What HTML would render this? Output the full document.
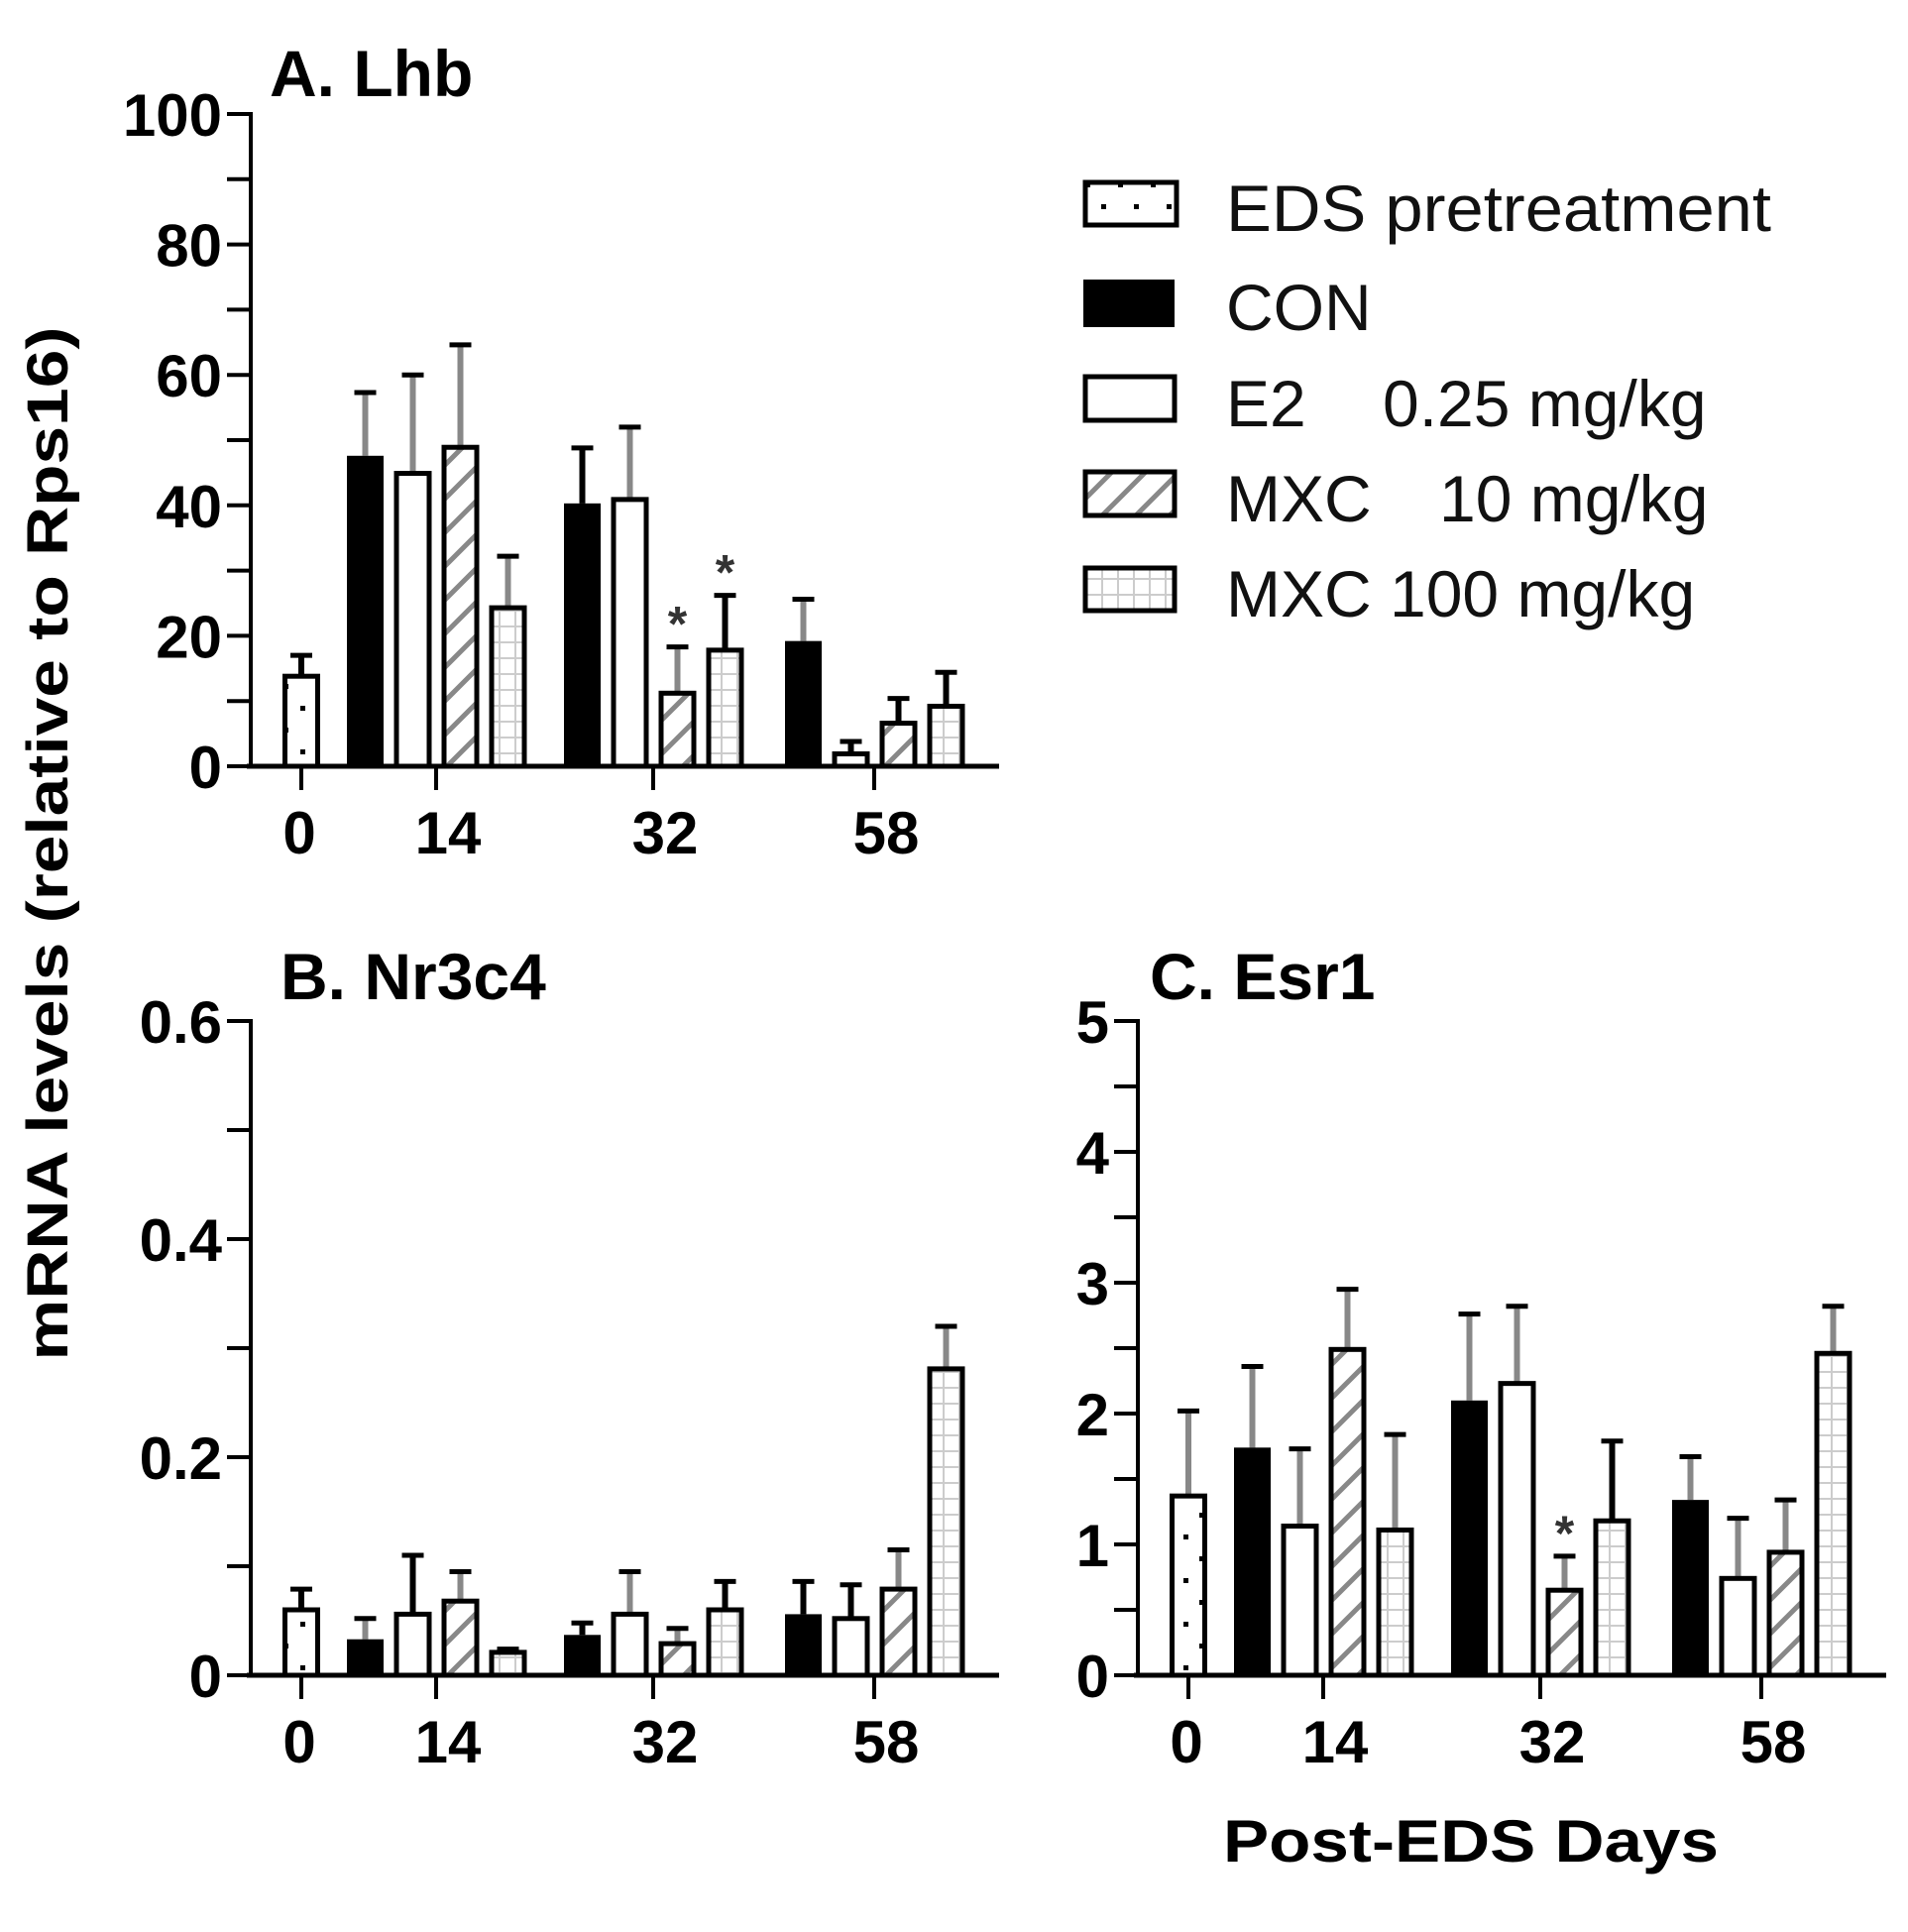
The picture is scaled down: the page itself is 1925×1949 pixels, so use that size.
<!DOCTYPE html>
<html><head><meta charset="utf-8"><style>
html,body{margin:0;padding:0;background:#fff;}
svg{display:block;}
text{font-family:"Liberation Sans",Arial,sans-serif;}
</style></head><body>
<svg id="fig" width="1925" height="1949" viewBox="0 0 1925 1949" xmlns="http://www.w3.org/2000/svg">
<defs>
<pattern id="pDots" patternUnits="userSpaceOnUse" width="33" height="44"><rect x="6" y="8" width="5" height="5" fill="#000"/><rect x="22" y="30" width="5" height="5" fill="#000"/></pattern>
<pattern id="pHatch" patternUnits="userSpaceOnUse" width="34" height="34"><path d="M-4,38 L38,-4 M-21,21 L21,-21 M13,55 L55,13" stroke="#888" stroke-width="5"/></pattern>
<pattern id="pGrid" patternUnits="userSpaceOnUse" width="16" height="16"><path d="M0,8 H16 M8,0 V16" stroke="#ccc" stroke-width="2"/></pattern>
</defs>
<g id="root"></g>
<text x="68" y="851" transform="rotate(-90 68 851)" text-anchor="middle" font-size="58" font-weight="bold" textLength="1043" lengthAdjust="spacingAndGlyphs">mRNA levels (relative to Rps16)</text>
<text x="1484" y="1878" text-anchor="middle" font-size="60" font-weight="bold" textLength="500" lengthAdjust="spacingAndGlyphs">Post-EDS Days</text>
<text x="272" y="97" font-size="66" font-weight="bold">A. Lhb</text>
<text x="283" y="1008" font-size="66" font-weight="bold">B. Nr3c4</text>
<text x="1160" y="1008" font-size="66" font-weight="bold">C. Esr1</text>
<g font-size="66" fill="#111">
<g><rect x="1095" y="184" width="92" height="43" fill="url(#pDots)" stroke="#000" stroke-width="5"/><text x="1237" y="233" textLength="550" lengthAdjust="spacingAndGlyphs">EDS pretreatment</text></g>
<g><rect x="1093" y="282" width="92" height="48" fill="#000"/><text x="1237" y="333">CON</text></g>
<g><rect x="1095" y="380" width="90" height="44" fill="#fff" stroke="#000" stroke-width="5"/><text x="1237" y="430">E2</text><text x="1395" y="430">0.25 mg/kg</text></g>
<g><rect x="1095" y="476" width="90" height="44" fill="url(#pHatch)" stroke="#000" stroke-width="5"/><text x="1237" y="526">MXC</text><text x="1452" y="526">10 mg/kg</text></g>
<g><rect x="1095" y="573" width="90" height="43" fill="url(#pGrid)" stroke="#000" stroke-width="5"/><text x="1237" y="622">MXC 100 mg/kg</text></g>
</g>
</svg>
<script>
// ---- data ----
const dayLabels = ["0","14","32","58"];
const groups = ["EDS","CON-14","E2-14","MXC10-14","MXC100-14","CON-32","E2-32","MXC10-32","MXC100-32","CON-58","E2-58","MXC10-58","MXC100-58"];
const lhbMean = [13.8,47.6,44.9,48.9,24.3,40.3,40.9,11.2,17.8,19.2,1.9,6.6,9.2];
const lhbSem  = [3.2,9.7,15.1,15.7,7.9,8.5,11.1,7.1,8.4,6.4,1.9,3.8,5.2];
const nr3c4Mean = [0.060,0.033,0.056,0.068,0.021,0.037,0.056,0.029,0.060,0.056,0.052,0.079,0.281];
const nr3c4Sem  = [0.019,0.019,0.054,0.027,0.003,0.011,0.039,0.014,0.026,0.030,0.031,0.036,0.039];
const esr1Mean = [1.37,1.74,1.14,2.49,1.11,2.10,2.23,0.65,1.18,1.34,0.74,0.94,2.46];
const esr1Sem  = [0.65,0.62,0.59,0.46,0.73,0.66,0.59,0.26,0.61,0.33,0.46,0.40,0.36];
const lhbTicks = [0,20,40,60,80,100];
const nr3c4Ticks = [0,0.2,0.4,0.6];
const esr1Ticks = [0,1,2,3,4,5];
const lhbStars = [7,8];
const esr1Stars = [7];

// ---- style ----
const fills = ["url(#pDots)","#000","#fff","url(#pHatch)","url(#pGrid)"];
const errColA = ["#000","#888","#888","#888","#888","#000","#888","#888","#000","#888","#000","#000","#000"];
const errColB = ["#000","#888","#000","#888","#000","#000","#888","#888","#000","#000","#000","#888","#888"];
const errColC = ["#888","#888","#888","#888","#888","#888","#888","#888","#000","#888","#888","#888","#888"];
const NS="http://www.w3.org/2000/svg";
const root=document.getElementById('root');
function mk(tag,attrs,parent){const e=document.createElementNS(NS,tag);for(const k in attrs)e.setAttribute(k,attrs[k]);(parent||root).appendChild(e);return e;}

function panel(key,ax,y0,yTop,maxV,minorStep,ticks,tickFmt,means,sems,errCols,stars){
  const g=mk('g',{});
  
  
  const yS=v=>y0-(v/maxV)*(y0-yTop);
  const slotX=i=>{ if(i===0) return ax+51-16.5; const gi=Math.floor((i-1)/4), k=(i-1)%4; return ax+[99,318,541][gi]+k*48; };
  const catX=[ax+51, ax+99+88, ax+318+88, ax+541+88];
  for(let i=0;i<means.length;i++){
    const x=slotX(i), w=33, top=yS(means[i]), cx=x+w/2, et=yS(means[i]+sems[i]);
    const type=i===0?0:1+((i-1)%4);
    const el=mk('line',{x1:cx,y1:top,x2:cx,y2:et,stroke:errCols[i],'stroke-width':6},g);
    
    
    const cap=mk('line',{x1:cx-11,y1:et,x2:cx+11,y2:et,stroke:'#000','stroke-width':5},g);
    
    
    const r=mk('rect',{x:x,y:top,width:w,height:Math.max(0,y0-top),fill:fills[type],stroke:'#000','stroke-width':type===1?0:5},g);
    if(type===1){r.setAttribute('x',x-2);r.setAttribute('width',w+4);}
    
    
  }
  stars.forEach(i=>{
    const cx=slotX(i)+16.5, et=yS(means[i]+sems[i]);
    const s=mk('text',{x:cx,y:et-6,'text-anchor':'middle','font-size':50,'font-weight':'bold',fill:'#333'},g);
    s.textContent='*';
    
    
  });
  const ya=mk('line',{x1:ax,y1:yTop-2,x2:ax,y2:y0+2,stroke:'#000','stroke-width':4},g);
  
  
  const xa=mk('line',{x1:ax-4,y1:y0,x2:ax+755,y2:y0,stroke:'#000','stroke-width':5},g);
  
  
  for(let v=0;v<=maxV+1e-9;v+=minorStep){
    mk('line',{x1:ax-24,y1:yS(v),x2:ax,y2:yS(v),stroke:'#000','stroke-width':4},g);
  }
  ticks.forEach(v=>{
    const t=mk('text',{x:ax-29,y:yS(v)+22,'text-anchor':'end','font-size':60,'font-weight':'bold'},g);
    t.textContent=tickFmt(v);
    
    
  });
  dayLabels.forEach((d,i)=>{
    mk('line',{x1:catX[i],y1:y0,x2:catX[i],y2:y0+24,stroke:'#000','stroke-width':4},g);
    const t=mk('text',{x:catX[i]+(i===0?-2:12),y:y0+88,'text-anchor':'middle','font-size':60,'font-weight':'bold'},g);
    t.textContent=d;
    
    
  });
}
panel('lhb',253,773,115,100,10,lhbTicks,v=>String(v),lhbMean,lhbSem,errColA,lhbStars);
panel('nr3c4',253,1690,1030,0.6,0.1,nr3c4Ticks,v=>v===0?'0':v.toFixed(1),nr3c4Mean,nr3c4Sem,errColB,[]);
panel('esr1',1148,1690,1030,5,0.5,esr1Ticks,v=>String(v),esr1Mean,esr1Sem,errColC,esr1Stars);
</script>
</body></html>
